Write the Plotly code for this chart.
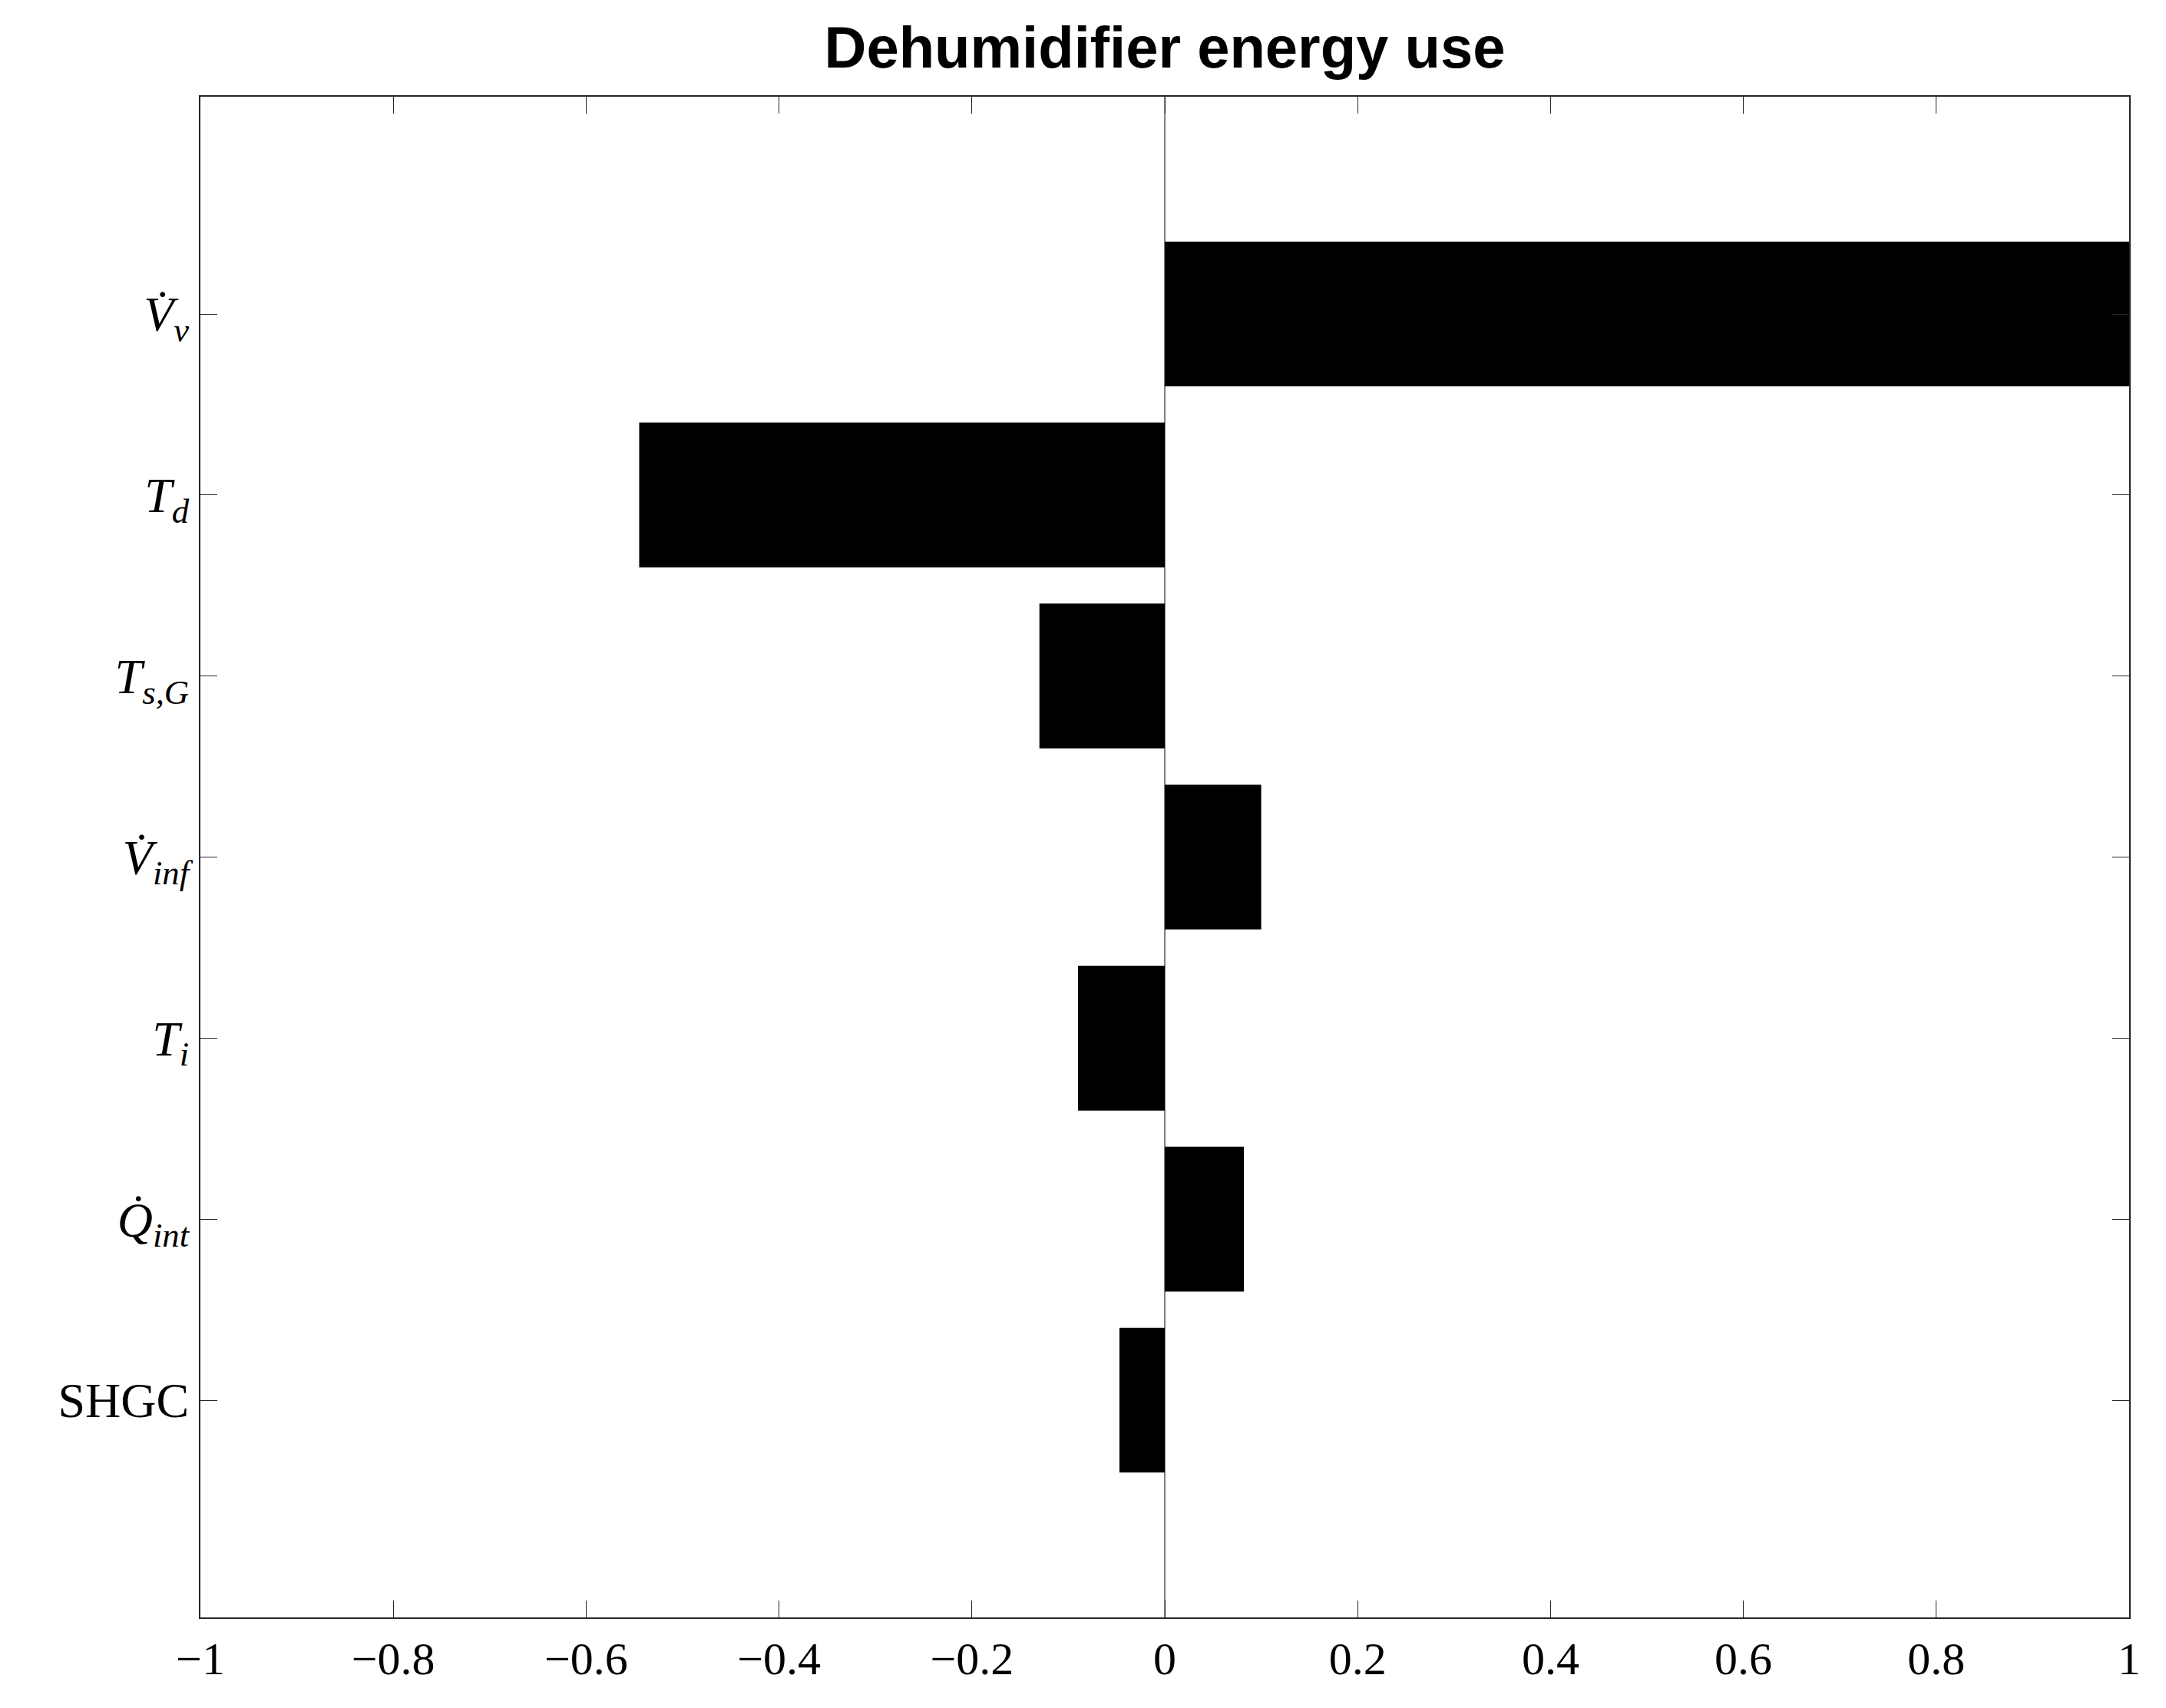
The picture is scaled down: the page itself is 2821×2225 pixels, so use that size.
import plotly.graph_objects as go

labels = ["<i>V̇</i><sub><i>v</i></sub>", "<i>T</i><sub><i>d</i></sub>", "<i>T</i><sub><i>s,G</i></sub>",
          "<i>V̇</i><sub><i>inf</i></sub>", "<i>T</i><sub><i>i</i></sub>", "<i>Q̇</i><sub><i>int</i></sub>", "SHGC"]
positions = [1, 2, 3, 4, 5, 6, 7]
values = [1.0, -0.545, -0.13, 0.1, -0.09, 0.082, -0.047]
x_ticks = [-1, -0.8, -0.6, -0.4, -0.2, 0, 0.2, 0.4, 0.6, 0.8, 1]
x_ticktext = ["−1", "−0.8", "−0.6", "−0.4", "−0.2", "0", "0.2", "0.4", "0.6", "0.8", "1"]

fig = go.Figure(go.Bar(x=values, y=positions, orientation="h", width=0.8,
                       marker=dict(color="black", line=dict(width=0))))

fig.update_layout(
    width=2821, height=2225, paper_bgcolor="white", plot_bgcolor="white",
    margin=dict(l=253, r=56, t=118, b=126),
    title=dict(text="<b>Dehumidifier energy use</b>", xref="paper", x=0.5, xanchor="center",
               y=0.988, yanchor="top",
               font=dict(family="Liberation Sans, Arial", size=76, color="black")),
    font=dict(family="Liberation Serif, Times New Roman, serif", size=60, color="black"),
    showlegend=False,
)
fig.update_xaxes(range=[-1, 1], tickvals=x_ticks, ticktext=x_ticktext, ticks="inside", ticklen=22,
                 tickcolor="#262626", showline=True, linecolor="#262626", linewidth=2, mirror="ticks",
                 showgrid=False, zeroline=True, zerolinecolor="#808080", zerolinewidth=2)
fig.update_yaxes(range=[8.2, -0.2], tickvals=positions, ticktext=labels, ticks="inside", ticklen=22,
                 tickcolor="#262626", showline=True, linecolor="#262626", linewidth=2, mirror="ticks",
                 showgrid=False, zeroline=False, tickfont=dict(size=64))

fig.write_html("out.html")
